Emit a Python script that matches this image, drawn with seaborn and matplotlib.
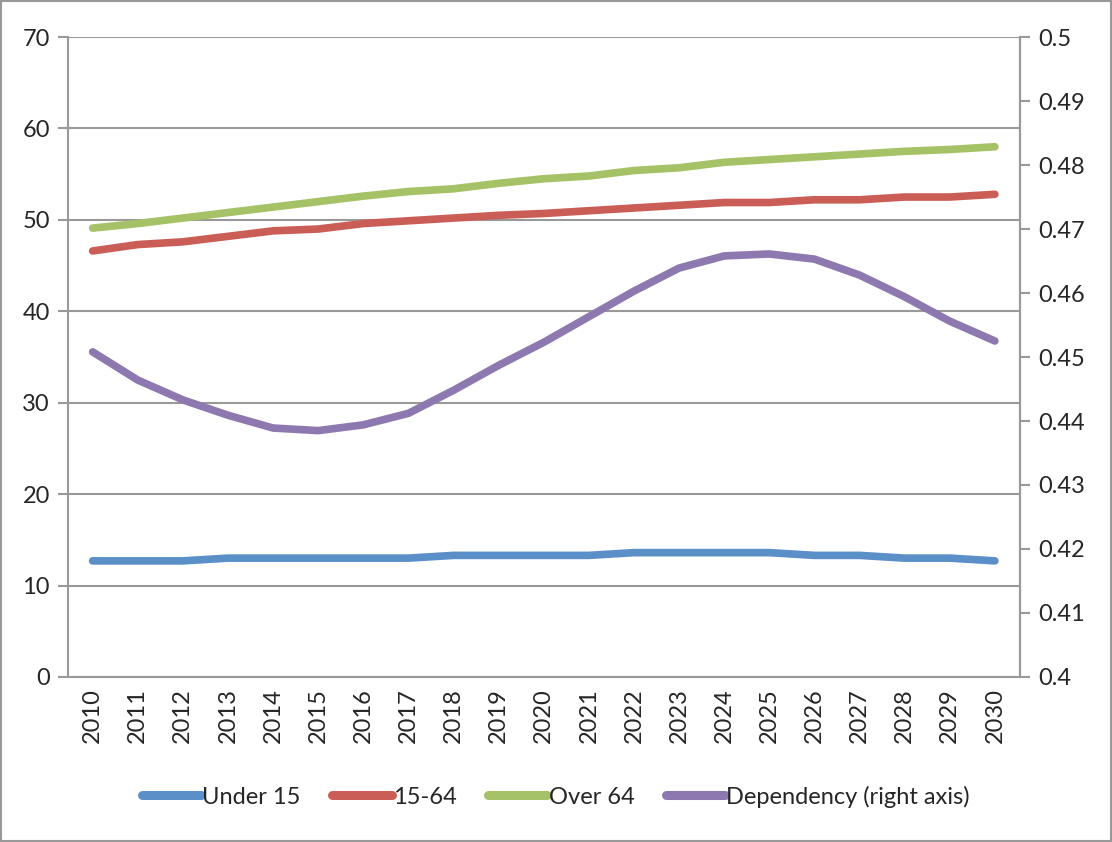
import matplotlib
matplotlib.use("Agg")
import matplotlib.pyplot as plt
import seaborn as sns
import numpy as np

years = list(range(2010, 2031))
under15 = [12.7, 12.7, 12.7, 13.0, 13.0, 13.0, 13.0, 13.0, 13.3, 13.3, 13.3,
           13.3, 13.6, 13.6, 13.6, 13.6, 13.3, 13.3, 13.0, 13.0, 12.7]
age15_64 = [46.6, 47.3, 47.6, 48.2, 48.8, 49.0, 49.6, 49.9, 50.2, 50.5, 50.7,
            51.0, 51.3, 51.6, 51.9, 51.9, 52.2, 52.2, 52.5, 52.5, 52.8]
over64 = [49.1, 49.6, 50.2, 50.8, 51.4, 52.0, 52.6, 53.1, 53.4, 54.0, 54.5,
          54.8, 55.4, 55.7, 56.3, 56.6, 56.9, 57.2, 57.5, 57.7, 58.0]
dependency = [0.4508, 0.4464, 0.4433, 0.4409, 0.4389, 0.4385, 0.4394, 0.4412,
              0.4448, 0.4487, 0.4523, 0.4563, 0.4603, 0.4639, 0.4658, 0.4661,
              0.4653, 0.4628, 0.4594, 0.4556, 0.4525]

c_blue = "#5A8FC8"
c_red = "#CB5D57"
c_green = "#A6C266"
c_purple = "#8E78B0"
grey = "#999999"

sns.set_style("white")
plt.rcParams["font.family"] = ["Lato", "DejaVu Sans"]

fig = plt.figure(figsize=(11.12, 8.42), dpi=100)
ax = fig.add_axes([0.061, 0.196, 0.856, 0.760])
ax2 = ax.twinx()

lw = 5.5
sns.lineplot(x=years, y=under15, ax=ax, color=c_blue, lw=lw, label="Under 15",
             solid_capstyle="round", legend=False)
sns.lineplot(x=years, y=age15_64, ax=ax, color=c_red, lw=lw, label="15-64",
             solid_capstyle="round", legend=False)
sns.lineplot(x=years, y=over64, ax=ax, color=c_green, lw=lw, label="Over 64",
             solid_capstyle="round", legend=False)
sns.lineplot(x=years, y=dependency, ax=ax2, color=c_purple, lw=lw,
             label="Dependency (right axis)", solid_capstyle="round", legend=False)

ax.set_xlim(2009.45, 2030.55)
ax.set_ylim(0, 70)
ax2.set_ylim(0.4, 0.5)
ax.set_yticks(np.arange(0, 71, 10))
ax2.set_yticks(np.round(np.arange(0.40, 0.501, 0.01), 2))
ax2.set_yticklabels(["0.4", "0.41", "0.42", "0.43", "0.44", "0.45", "0.46",
                     "0.47", "0.48", "0.49", "0.5"])

fs = 17
ax.set_xticks(years)
ax.set_xticklabels([str(y) for y in years], rotation=90)
ax.set_xticks(np.arange(2009.5, 2031, 1), minor=True)
ax.tick_params(axis="x", which="major", length=0, pad=8, labelsize=fs)
ax.tick_params(axis="x", which="minor", length=7, width=1.5, color=grey,
               direction="out")
ax.tick_params(axis="y", length=7, width=1.5, color=grey, labelsize=fs,
               direction="out", pad=6)
ax2.tick_params(axis="y", length=7, width=1.5, color=grey, labelsize=fs,
                direction="out", pad=6)

ax.yaxis.grid(True, color=grey, lw=1.5)
ax.set_axisbelow(True)
for a in (ax, ax2):
    a.spines["top"].set_visible(False)
    for s in ("left", "right", "bottom"):
        a.spines[s].set_color(grey)
        a.spines[s].set_linewidth(1.5)
ax2.spines["left"].set_visible(False)
ax2.spines["bottom"].set_visible(False)

h1, l1 = ax.get_legend_handles_labels()
h2, l2 = ax2.get_legend_handles_labels()
leg = fig.legend(h1 + h2, l1 + l2, loc="center", bbox_to_anchor=(0.5, 0.054),
                 ncol=4, frameon=False, fontsize=17, handlelength=2.5,
                 handletextpad=0.05, columnspacing=1.35)
for line in leg.get_lines():
    line.set_linewidth(6.5)

fig.patches.append(plt.Rectangle((0.001, 0.001), 0.998, 0.998,
                                 transform=fig.transFigure, fill=False,
                                 edgecolor=grey, lw=1.5))

fig.savefig("out.png", dpi=100)
